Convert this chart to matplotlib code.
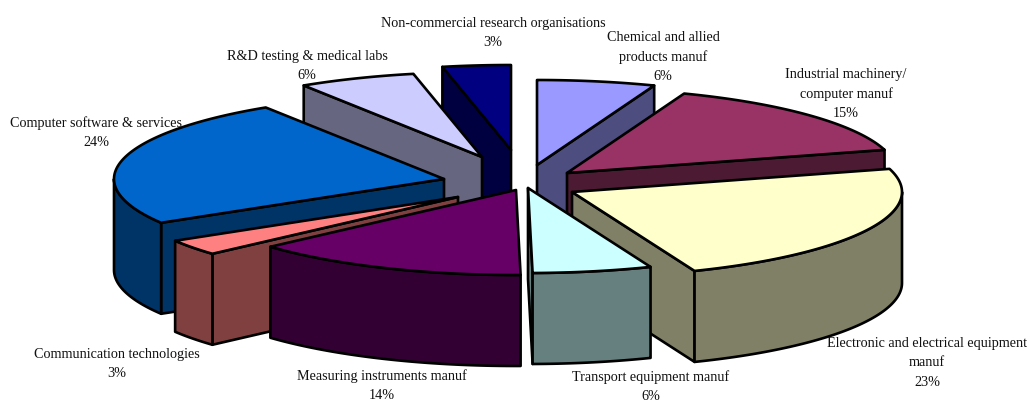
"""Exploded 3-D pie of sector shares, built from polygons on a pixel-sized axes."""

import numpy as np
import matplotlib

matplotlib.use("Agg")
import matplotlib.pyplot as plt
from matplotlib.colors import to_rgb
from matplotlib.patches import Polygon

sectors = [
    "Chemical and allied\nproducts manuf",
    "Industrial machinery/\ncomputer manuf",
    "Electronic and electrical equipment\nmanuf",
    "Transport equipment manuf",
    "Measuring instruments manuf",
    "Communication technologies",
    "Computer software & services",
    "R&D testing & medical labs",
    "Non-commercial research organisations",
]
shares = [6, 15, 23, 6, 14, 3, 24, 6, 3]

top_colors = ["#9999FF", "#993366", "#FFFFCC", "#CCFFFF", "#660066",
              "#FF8080", "#0066CC", "#CCCCFF", "#000080"]

# where each exploded slice has its tip, and where its label sits
tip_x = [537, 567, 572, 528, 516, 458, 444, 482, 511]
tip_y = [165, 173, 192, 188, 190, 197, 179, 157, 150]
label_x = [663, 846, 927, 651, 382, 117, 96, 307, 493]
label_y = [57, 94, 363, 387, 386, 364, 133, 66, 33]

# small perspective correction of each slice boundary, degrees
edge_shift = [0, -0.8, -1.4, -0.2, -0.8, -2.3, -2.2, -0.3, -1.2, 0]

# back slices first so the front ones paint over them
draw_order = [8, 0, 1, 2, 3, 7, 6, 5, 4]

RX, RY = 330, 85
DEPTH = 91
LW = 1.9


def rim(cx, cy, angles):
    a = np.radians(angles)
    return np.column_stack([cx + RX * np.sin(a), cy - RY * np.cos(a)])


def face(ax, pts, color):
    ax.add_patch(Polygon(pts, closed=True, facecolor=color, edgecolor="black",
                         linewidth=LW, joinstyle="round"))


def draw_slice(ax, cx, cy, a0, a1, color):
    rgb = to_rgb(color)
    side = tuple(c * 0.5 for c in rgb)
    drop = np.array([0, DEPTH])
    tip = np.array([cx, cy])

    # flat walls along the cut edges, only those turned towards the viewer
    for a, visible in ((a0, np.sin(np.radians(a0)) < 0), (a1, np.sin(np.radians(a1)) > 0)):
        if visible:
            p = rim(cx, cy, [a])[0]
            face(ax, [tip, p, p + drop, tip + drop], side)

    # curved wall, only the part on the near half of the ellipse
    lo, hi = max(a0, 90), min(a1, 270)
    if hi > lo:
        arc = rim(cx, cy, np.linspace(lo, hi, 80))
        face(ax, np.vstack([arc, arc[::-1] + drop]), side)

    arc = rim(cx, cy, np.linspace(a0, a1, 80))
    face(ax, np.vstack([tip, arc]), color)


fig = plt.figure(figsize=(10.3, 4.03), dpi=100)
ax = fig.add_axes([0, 0, 1, 1])
ax.set_xlim(0, 1030)
ax.set_ylim(403, 0)
ax.axis("off")

edges = np.concatenate([[0], np.cumsum(shares)]) * 3.6 + np.array(edge_shift)
for i in draw_order:
    draw_slice(ax, tip_x[i], tip_y[i], edges[i], edges[i + 1], top_colors[i])

for i, name in enumerate(sectors):
    ax.text(label_x[i], label_y[i], f"{name}\n{shares[i]}%", ha="center", va="center",
            family="Liberation Serif", fontsize=10.15, linespacing=1.6, color="#111111",
            zorder=5, clip_on=False)

fig.savefig("out.png", dpi=100)
